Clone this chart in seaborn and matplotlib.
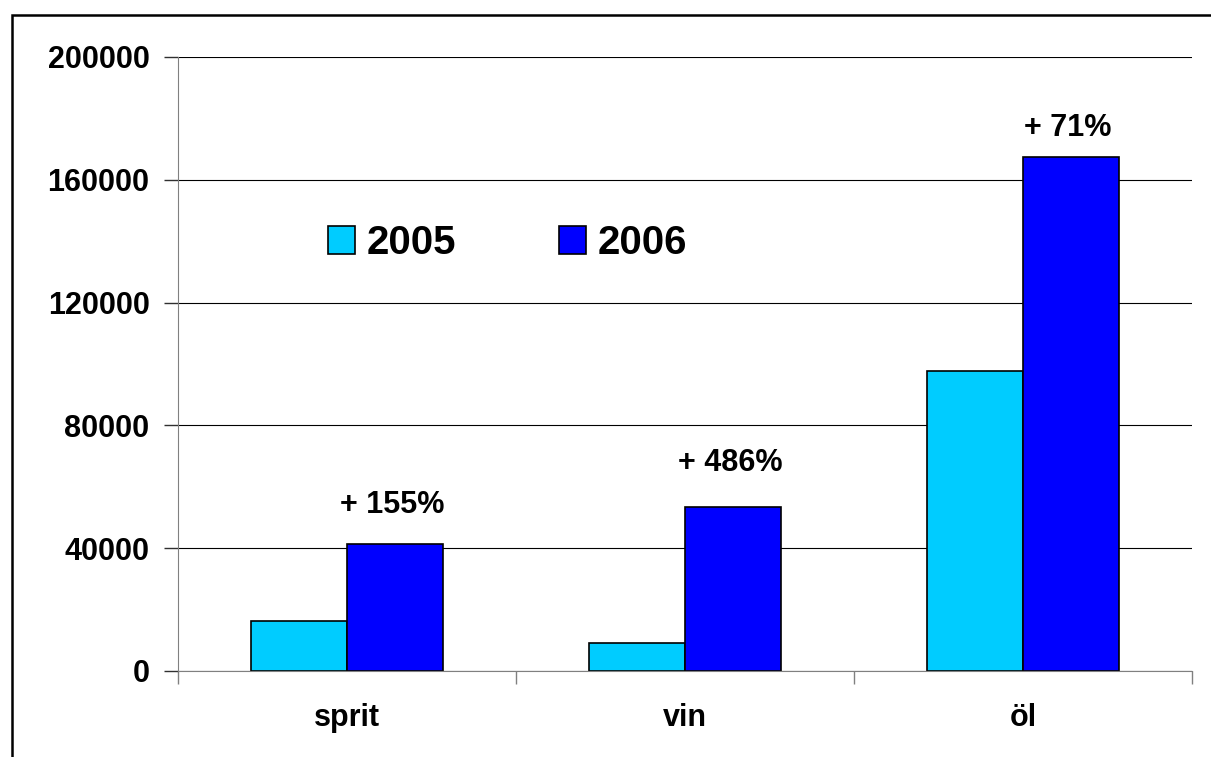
import matplotlib
matplotlib.use("Agg")
import matplotlib.pyplot as plt
import seaborn as sns
import pandas as pd
from matplotlib.patches import Rectangle, Patch
from matplotlib.ticker import FixedLocator

categories = ["sprit", "vin", "öl"]
years = ["2005", "2006"]
values_2005 = [16300, 9100, 97800]
values_2006 = [41500, 53400, 167500]
change_labels = ["+ 155%", "+ 486%", "+ 71%"]
yticks = [0, 40000, 80000, 120000, 160000, 200000]

sns.set_theme(style="white")
plt.rcParams['font.family'] = ['Liberation Sans', 'DejaVu Sans']
plt.rcParams['font.weight'] = 'bold'
plt.rcParams['text.color'] = 'black'
plt.rcParams['xtick.labelcolor'] = 'black'
plt.rcParams['ytick.labelcolor'] = 'black'
plt.rcParams['ytick.left'] = True
plt.rcParams['xtick.bottom'] = True

df = pd.DataFrame({
    "cat": categories * 2,
    "year": [years[0]] * 3 + [years[1]] * 3,
    "value": values_2005 + values_2006,
})
colors = {"2005": "#00CCFF", "2006": "#0000FF"}

fig = plt.figure(figsize=(12.11, 7.57), dpi=100)
ax = fig.add_axes([178 / 1211, 1 - 671 / 757, (1192 - 178) / 1211, (671 - 57) / 757])

sns.barplot(data=df, x="cat", y="value", hue="year", palette=colors, width=0.57,
            edgecolor="black", linewidth=1.2, ax=ax, legend=False, saturation=1)

ax.set_xlim(-0.5, 2.5)
ax.set_ylim(0, 200000)
ax.set_yticks(yticks)
ax.set_yticklabels([str(v) for v in yticks], fontsize=22, fontweight='bold', color='black')
ax.yaxis.grid(True, color="black", linewidth=0.8)
ax.set_axisbelow(True)
ax.tick_params(axis='y', which='major', length=10, width=1.0, color="#303030",
               pad=10.5, left=True, direction='out')

ax.set_xticks(range(len(categories)))
ax.set_xticklabels(categories, fontsize=22, fontweight='bold', color='black')
ax.tick_params(axis='x', which='major', length=0, pad=23)
ax.xaxis.set_minor_locator(FixedLocator([-0.5, 0.5, 1.5, 2.5]))
ax.tick_params(axis='x', which='minor', length=9, width=1.0, color="#808080",
               bottom=True, direction='out')
ax.set_xlabel("")
ax.set_ylabel("")

for s in ["top", "right"]:
    ax.spines[s].set_visible(False)
for s in ["left", "bottom"]:
    ax.spines[s].set_color("#808080")
    ax.spines[s].set_linewidth(0.8)

# percentage annotations over the 2006 bars
offsets = [28, 32, 21]
bars_2006 = ax.containers[1]
for bar, lab, off in zip(bars_2006, change_labels, offsets):
    cx = bar.get_x() + bar.get_width() / 2
    ax.annotate(lab, (cx - 0.01, bar.get_height()), xytext=(0, off),
                textcoords="offset points", ha="center", va="center",
                fontsize=22, fontweight='bold', color='black')

handles = [Patch(facecolor=colors[y], edgecolor="black", linewidth=1.2) for y in years]
leg = ax.legend(handles, years, loc="center left", bbox_to_anchor=(0.148, 0.697),
                ncol=2, frameon=False, prop={'size': 29, 'weight': 'bold'},
                handlelength=0.68, handleheight=0.68, handletextpad=0.28,
                columnspacing=2.55, borderpad=0, borderaxespad=0)
for t in leg.get_texts():
    t.set_color('black')

# outer frame
fig.patches.append(Rectangle((12 / 1211, -0.2), 1.5, (757 - 15) / 757 + 0.2,
                             transform=fig.transFigure, fill=False,
                             edgecolor="black", linewidth=1.8, clip_on=False))

fig.savefig("out.png", dpi=100)
